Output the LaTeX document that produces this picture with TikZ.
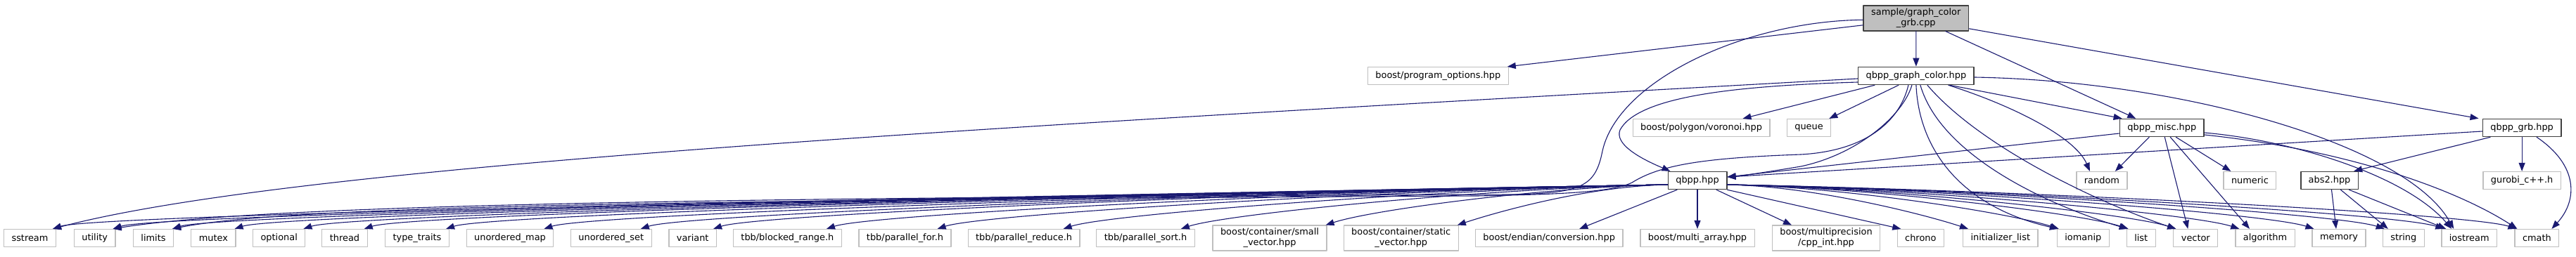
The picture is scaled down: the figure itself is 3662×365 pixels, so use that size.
\documentclass[tikz,border=0pt]{standalone}
\usepackage{fontspec}
\setmainfont{DejaVu Sans}
\usetikzlibrary{arrows.meta}
\definecolor{edgeblue}{HTML}{191970}
\definecolor{lgray}{HTML}{BFBFBF}
\definecolor{dgray}{HTML}{404040}
\newcommand{\graphfont}{\fontsize{12.9}{15}\selectfont}
\tikzset{
  hdr/.style={draw=lgray, line width=1.2pt, fill=white, inner xsep=11pt, inner ysep=4pt,
    minimum height=25pt, align=center, font=\graphfont},
  inc/.style={hdr, draw=dgray, line width=1.6pt},
  root/.style={inc, fill=lgray},
  dep/.style={draw=edgeblue, line width=1.1pt, ->}
}
\begin{document}
\begin{tikzpicture}[x=1pt,y=1pt,line cap=round,line join=round,>={Triangle[length=12pt,width=9pt]}]
\useasboundingbox (0,0) rectangle (3662,365);
% upper rows
\node [root] (grbcpp) at (2723.75,339.2) {sample/graph\_color\\\_grb.cpp};
\node [hdr] (progopt) at (2044.3,257) {boost/program\_options.hpp};
\node [inc] (graphcolor) at (2723.9,257) {qbpp\_graph\_color.hpp};
\node [hdr] (voronoi) at (2418.5,183) {boost/polygon/voronoi.hpp};
\node [hdr] (queue) at (2571.5,183) {queue};
\node [inc] (misc) at (3073.3,183) {qbpp\_misc.hpp};
\node [inc] (grb) at (3585.1,183) {qbpp\_grb.hpp};
\node [inc] (qbpp) at (2413,108) {qbpp.hpp};
\node [hdr] (random) at (2987.9,108) {random};
\node [hdr] (numeric) at (3198.4,108) {numeric};
\node [inc] (abstwo) at (3311.5,108) {abs2.hpp};
\node [hdr] (gurobi) at (3585.1,108) {gurobi\_c++.h};
% bottom row
\node [hdr] (sstream) at (42.5,26) {sstream};
\node [hdr] (utility) at (134.7,26) {utility};
\node [hdr] (limits) at (218,26) {limits};
\node [hdr] (mutex) at (303.4,26) {mutex};
\node [hdr] (optional) at (396.7,26) {optional};
\node [hdr] (thread) at (490,26) {thread};
\node [hdr] (typetraits) at (593,26) {type\_traits};
\node [hdr] (umap) at (725,26) {unordered\_map};
\node [hdr] (uset) at (868.8,26) {unordered\_set};
\node [hdr] (variant) at (984.7,26) {variant};
\node [hdr] (blocked) at (1119.4,26) {tbb/blocked\_range.h};
\node [hdr] (pfor) at (1286.5,26) {tbb/parallel\_for.h};
\node [hdr] (preduce) at (1455.6,26) {tbb/parallel\_reduce.h};
\node [hdr] (psort) at (1628.5,26) {tbb/parallel\_sort.h};
\node [hdr] (smallvec) at (1805,26) {boost/container/small\\\_vector.hpp};
\node [hdr] (staticvec) at (1991.7,26) {boost/container/static\\\_vector.hpp};
\node [hdr] (endian) at (2202.2,26) {boost/endian/conversion.hpp};
\node [hdr] (multiarray) at (2413,26) {boost/multi\_array.hpp};
\node [hdr] (cppint) at (2596,26) {boost/multiprecision\\/cpp\_int.hpp};
\node [hdr] (chrono) at (2730.3,26) {chrono};
\node [hdr] (initlist) at (2843.8,26) {initializer\_list};
\node [hdr] (iomanip) at (2961.3,26) {iomanip};
\node [hdr] (list) at (3043.7,26) {list};
\node [hdr] (vector) at (3121.3,26) {vector};
\node [hdr] (algorithm) at (3220,26) {algorithm};
\node [hdr] (memory) at (3325,26) {memory};
\node [hdr] (string) at (3416.8,26) {string};
\node [hdr] (iostream) at (3510.2,26) {iostream};
\node [hdr] (cmath) at (3606.4,26) {cmath};
% sample/graph_color_grb.cpp
\draw [dep] ([yshift=-10pt]grbcpp.west) -- ([xshift=-2pt]progopt.north east);
\draw [dep] (grbcpp) -- (graphcolor);
\draw [dep] ([xshift=42pt]grbcpp.south) -- ([xshift=-37pt]misc.north);
\draw [dep] ([yshift=-15pt]grbcpp.east) -- ([xshift=-5pt]grb.north west);
\draw [dep] ([yshift=-2.5pt]grbcpp.west) .. controls (2480,335) and (2300,250) .. (2278,150)
  .. controls (2268,100) and (2250,90) .. (2150,88)
  .. controls (900,84) and (350,70) .. ([xshift=-4pt]utility.north east);
% qbpp_graph_color.hpp
\draw [dep] ([yshift=-4pt]graphcolor.west) .. controls (1400,184) and (420,130) .. ([xshift=-5pt]sstream.north east);
\draw [dep] ([yshift=-9pt]graphcolor.west) .. controls (2480,243) and (2330,230) .. (2303,180)
  .. controls (2295,160) and (2330,140) .. ([xshift=4pt]qbpp.north west);
\draw [dep] ([xshift=-11pt]graphcolor.south) .. controls (2700,190) and (2650,150) .. (2560,145)
  .. controls (2420,140) and (2360,130) .. (2320,105)
  .. controls (2290,90) and (2200,88) .. (2100,86)
  .. controls (900,80) and (400,70) .. ([xshift=-2pt]limits.north east);
\draw [dep] ([xshift=-6pt]graphcolor.south) .. controls (2705,200) and (2640,145) .. (2560,128)
  .. controls (2500,118) and (2470,114) .. ([yshift=5pt]qbpp.east);
\draw [dep] ([xshift=-59pt]graphcolor.south) -- ([xshift=-39pt]voronoi.north east);
\draw [dep] ([xshift=-25pt]graphcolor.south) -- ([xshift=-3pt]queue.north east);
\draw [dep] ([xshift=48pt]graphcolor.south) -- ([xshift=4pt]misc.north west);
\draw [dep] ([xshift=46pt]graphcolor.south) .. controls (2860,215) and (2950,170) .. ([xshift=-17pt]random.north);
\draw [dep] ([yshift=-2pt]graphcolor.east) .. controls (3100,250) and (3420,160) .. ([xshift=-22pt]iostream.north);
\draw [dep] (graphcolor.south) .. controls (2728,150) and (2790,70) .. ([xshift=2pt]iomanip.north west);
\draw [dep] ([xshift=6pt]graphcolor.south) .. controls (2760,140) and (2920,70) .. ([xshift=2pt]list.north west);
\draw [dep] ([xshift=16pt]graphcolor.south) .. controls (2820,150) and (3000,70) .. ([xshift=4pt]vector.north west);
% qbpp_misc.hpp
\draw [dep] ([yshift=-8pt]misc.west) -- ([yshift=5pt]qbpp.east);
\draw [dep] ([xshift=-18pt]misc.south) -- ([xshift=19pt]random.north);
\draw [dep] ([xshift=4pt]misc.south) -- ([xshift=-11pt]vector.north);
\draw [dep] ([xshift=12pt]misc.south) -- ([xshift=-22pt]algorithm.north);
\draw [dep] ([xshift=20pt]misc.south) -- ([xshift=-27pt]numeric.north);
\draw [dep] ([yshift=-7pt]misc.east) .. controls (3260,165) and (3420,115) .. ([xshift=-25pt]iostream.north);
\draw [dep] ([yshift=-10pt]misc.east) .. controls (3350,150) and (3500,90) .. ([xshift=-28pt]cmath.north);
% qbpp_grb.hpp
\draw [dep] ([yshift=-5pt]grb.west) -- ([yshift=5pt]qbpp.east);
\draw [dep] ([xshift=-45pt]grb.south) -- ([xshift=-7pt]abstwo.north east);
\draw [dep] (grb) -- (gurobi);
\draw [dep] ([xshift=21pt]grb.south) .. controls (3665,130) and (3665,80) .. ([xshift=21pt]cmath.north);
% abs2.hpp
\draw [dep] ([xshift=3pt]abstwo.south) -- ([xshift=-4pt]memory.north);
\draw [dep] ([xshift=16pt]abstwo.south) -- ([xshift=-22pt]string.north);
\draw [dep] ([xshift=28pt]abstwo.south) -- ([xshift=-33pt]iostream.north);
% qbpp.hpp
\foreach \t/\s/\l in {sstream/-5/800,utility/-4/774,limits/-2/744,mutex/-2/714,optional/-3/679,
    thread/-5/649,typetraits/-5/608,umap/-14/560,uset/-16/512,variant/-5/476,blocked/-22/419,
    pfor/-20/364,preduce/-24/302,psort/-20/243,smallvec/-2/171,staticvec/-2/106}
  \draw [dep] ([yshift=-6pt]qbpp.west) .. controls +(-\l,-0.0175*\l) and +(67,22) .. ([xshift=\s]\t.north east);
\foreach \t/\s/\l in {initlist/8/120,iomanip/3/166,list/3/200,vector/4/224,algorithm/6/255,
    memory/3/292,string/3/328,iostream/4/357,cmath/3/393}
  \draw [dep] ([yshift=-6pt]qbpp.east) .. controls +(\l,-0.0175*\l) and +(-67,22) .. ([xshift=\s]\t.north west);
\draw [dep] ([xshift=-29pt]qbpp.south) -- ([xshift=43pt]endian.north);
\draw [dep] (qbpp) -- (multiarray);
\draw [dep] ([xshift=27pt]qbpp.south) -- ([xshift=-49pt]cppint.north);
\draw [dep] (qbpp.south east) -- ([xshift=-28pt]chrono.north);
\end{tikzpicture}
\end{document}
